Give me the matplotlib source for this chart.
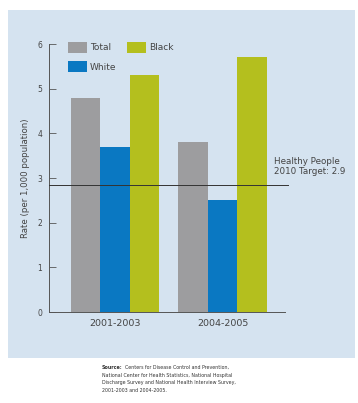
import matplotlib
matplotlib.use("Agg")
import matplotlib.pyplot as plt
from matplotlib.patches import Rectangle
import numpy as np

periods = ["2001-2003", "2004-2005"]
series_names = ["Total", "White", "Black"]
total = [4.8, 3.8]
white = [3.7, 2.5]
black = [5.3, 5.7]
target = 2.85
yticks = [0, 1, 2, 3, 4, 5, 6]

colors = ["#9d9d9f", "#0a78c2", "#b4bf1e"]
panel_color = "#d5e3f0"
text_color = "#444444"

fig = plt.figure(figsize=(3.58, 4.03), dpi=100)
fig.patch.set_facecolor("white")

# panel background
fig.patches.append(Rectangle((8/358, 1-358/403), (355-8)/358, (358-10)/403,
                             transform=fig.transFigure, facecolor=panel_color,
                             edgecolor="none", zorder=-5))

ax = fig.add_axes([49/358, 1-312/403, (285-49)/358, (312-44)/403])
ax.set_facecolor("none")
ax.set_zorder(2)

x = np.arange(len(periods))
w = 0.274
for i, (vals, c) in enumerate(zip([total, white, black], colors)):
    ax.bar(x + (i-1)*w, vals, width=w, color=c, zorder=2)

ax.set_xlim(-0.614, 1.58)
ax.set_ylim(0, 6)
ax.set_yticks(yticks)
ax.set_yticklabels([str(t) for t in yticks], fontsize=5.5, color=text_color)
ax.set_xticks(x)
ax.set_xticklabels(periods, fontsize=6.8, color=text_color)
ax.tick_params(axis="x", length=0, pad=5)
ax.tick_params(axis="y", direction="in", length=5, width=0.6, color="#555555", pad=5)
for s in ["top", "right"]:
    ax.spines[s].set_visible(False)
for s in ["left", "bottom"]:
    ax.spines[s].set_linewidth(0.7)
    ax.spines[s].set_color("#555555")

ax.plot([-0.614, 1.61], [target, target], color="#333333", lw=0.7, clip_on=False, zorder=3)
fig.text(274/358, 1-157/403, "Healthy People\n2010 Target: 2.9", fontsize=6.3,
         color=text_color, ha="left", va="top", linespacing=1.15)

ax.set_ylabel("Rate (per 1,000 population)", fontsize=6.2, color=text_color, labelpad=5)

# legend
def legend_item(px, py, c, label):
    fig.patches.append(Rectangle((px/358, 1-(py+11)/403), 19/358, 11/403,
                                 transform=fig.transFigure, facecolor=c, edgecolor="none",
                                 zorder=5))
    fig.text((px+22)/358, 1-(py+6)/403, label, fontsize=6.5, color=text_color, va="center",
             zorder=5)

legend_item(68, 42, colors[0], series_names[0])
legend_item(68, 61, colors[1], series_names[1])
legend_item(127, 42, colors[2], series_names[2])

src_lines = ["Centers for Disease Control and Prevention,",
             "National Center for Health Statistics, National Hospital",
             "Discharge Survey and National Health Interview Survey,",
             "2001-2003 and 2004-2005."]
x0 = 102
y0 = 365
lh = 7.5
t = fig.text(x0/358, 1-y0/403, "Source:", fontsize=3.4, fontweight="bold",
             color="#333333", va="top")
fig.canvas.draw()
bb = t.get_window_extent(renderer=fig.canvas.get_renderer())
fig.text((bb.x1 + 2)/358, 1-y0/403, src_lines[0], fontsize=3.4, color="#333333", va="top")
for k, line in enumerate(src_lines[1:], start=1):
    fig.text(x0/358, 1-(y0 + k*lh)/403, line, fontsize=3.4, color="#333333", va="top")

fig.savefig("out.png", dpi=100)
